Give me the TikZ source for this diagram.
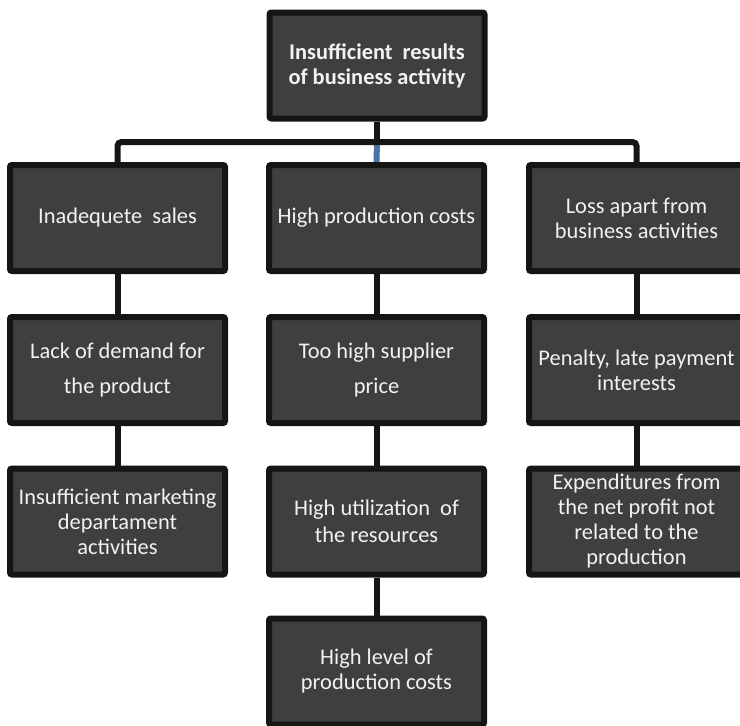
\documentclass[tikz,border=0pt]{standalone}
\usepackage{fontspec}
\setmainfont{Carlito}
\definecolor{boxfill}{HTML}{3F3F3F}
\definecolor{boxline}{HTML}{151515}
\definecolor{boxtext}{HTML}{F2F2F2}
\definecolor{linkblue}{HTML}{4A72A8}
\tikzset{
  cause/.style={draw=boxline, fill=boxfill, line width=6pt, rounded corners=2pt,
    minimum width=215pt, minimum height=106pt, inner sep=1pt, align=center,
    text=boxtext, font=\fontsize{22.4}{25}\selectfont},
  wide/.style={font=\fontsize{22.4}{35}\selectfont},
  link/.style={draw=boxline, line width=6pt},
}
\begin{document}
\begin{tikzpicture}[x=1pt, y=-1pt]
  \useasboundingbox (0,0) rectangle (740,726);
  \clip (0,0) rectangle (740,726);

  % root
  \node[cause, font=\bfseries\fontsize{22.4}{25}\selectfont] (root) at (377,65.5)
    {Insufficient\ \ results\\of business activity};

  % first level
  \node[cause] (sales) at (117.5,218) {Inadequete\ \ sales};
  \node[cause] (costs) at (376.5,218) {High production costs};
  \node[cause] (loss)  at (636.5,218) {Loss apart from\\business activities};

  % second level
  \node[cause, wide] (demand)   at (117.5,370) {Lack of demand for\\the product};
  \node[cause, wide] (supplier) at (376.5,370) {Too high supplier\\price};
  \node[cause]       (penalty)  at (636.5,370) {Penalty, late payment\\interests};

  % third level
  \node[cause] (marketing) at (117.5,521.5) {Insufficient marketing\\departament\\activities};
  \node[cause, font=\fontsize{22.4}{27}\selectfont] (resources) at (376.5,521.5)
    {High utilization\ \ of\\the resources};
  \node[cause] (expend) at (636.5,521.5)
    {Expenditures from\\the net profit not\\related to the\\production};

  % fourth level
  \node[cause] (level) at (376.5,671.5) {High level of\\production costs};

  % bus under the root
  \coordinate (bus) at (377,142);
  \draw[line width=6pt, draw=linkblue] (bus) -- (costs.north);
  \draw[link] (root.south) -- (bus);
  \draw[link, rounded corners=4pt] (sales.north) |- (bus) -| (loss.north);

  % vertical chains
  \draw[link] (sales.south) -- (demand.north);
  \draw[link] (demand.south) -- (marketing.north);
  \draw[link] (costs.south) -- (supplier.north);
  \draw[link] (supplier.south) -- (resources.north);
  \draw[link] (resources.south) -- (level.north);
  \draw[link] (loss.south) -- (penalty.north);
  \draw[link] (penalty.south) -- (expend.north);
\end{tikzpicture}
\end{document}
